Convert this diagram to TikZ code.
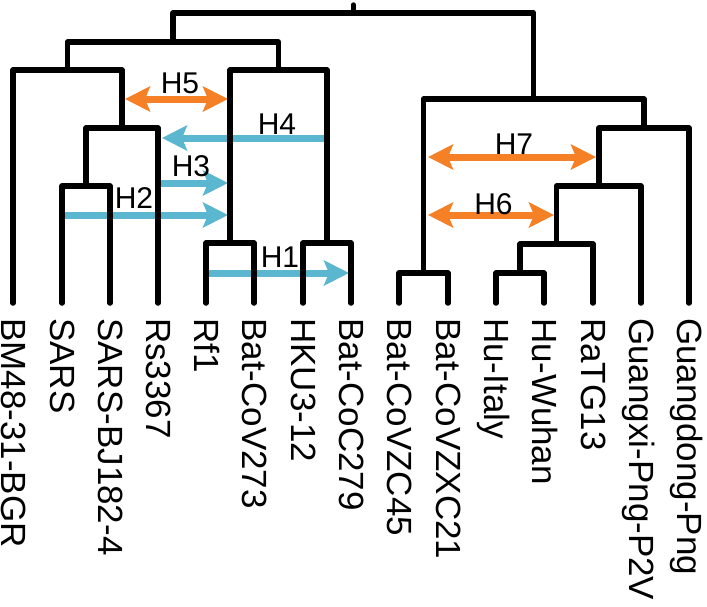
\documentclass[tikz,border=0pt]{standalone}
\usepackage{fontspec}
\setmainfont{Liberation Sans}
\usetikzlibrary{arrows.meta}
\definecolor{hblue}{RGB}{91,183,208}
\definecolor{horange}{RGB}{245,128,37}
\begin{document}
\begin{tikzpicture}[x=1pt,y=-1pt,
  branch/.style={line width=5.5pt,line cap=round,line join=round,draw=black},
  bluearrow/.style={color=hblue,line width=7pt,-{Stealth[length=25pt,width=25pt,inset=5pt]}},
  orangearrow/.style={color=horange,line width=7pt,{Stealth[length=25pt,width=25pt,inset=5pt]}-{Stealth[length=25pt,width=25pt,inset=5pt]}},
  leaflabel/.style={rotate=-90,anchor=base west,inner sep=0pt,font=\fontsize{35}{40}\selectfont},
  hlabel/.style={inner sep=0pt,font=\fontsize{30}{34}\selectfont}
]
\useasboundingbox (0,0) rectangle (707,606);

% leaves
\coordinate (l1) at (13,303);
\coordinate (l2) at (62,303);
\coordinate (l3) at (110,303);
\coordinate (l4) at (158,303);
\coordinate (l5) at (206,303);
\coordinate (l6) at (254,303);
\coordinate (l7) at (303,303);
\coordinate (l8) at (351,303);
\coordinate (l9) at (399,303);
\coordinate (l10) at (448,303);
\coordinate (l11) at (496,303);
\coordinate (l12) at (544,303);
\coordinate (l13) at (593,303);
\coordinate (l14) at (641,303);
\coordinate (l15) at (689,303);

% internal nodes
\coordinate (n1) at (86,186);
\coordinate (n2) at (122,128);
\coordinate (n3) at (67.5,70);
\coordinate (n4) at (230,243);
\coordinate (n5) at (327,243);
\coordinate (n6) at (278.5,70);
\coordinate (n7) at (173,42);
\coordinate (n8) at (423.5,273);
\coordinate (n9) at (520,273);
\coordinate (n10) at (556.5,244);
\coordinate (n11) at (598.75,186);
\coordinate (n12) at (643.9,128);
\coordinate (n13) at (533.7,99);
\coordinate (root) at (353.35,13);
\coordinate (roottop) at (353.35,5);

% arrow end points
\coordinate (a1s) at (206,273); \coordinate (a1e) at (349,273);
\coordinate (a2s) at (62,215);  \coordinate (a2e) at (228,215);
\coordinate (a3s) at (160,183); \coordinate (a3e) at (228,183);
\coordinate (a4s) at (327,138); \coordinate (a4e) at (162,138);
\coordinate (a5s) at (125,99);  \coordinate (a5e) at (228,99);
\coordinate (a6s) at (428,215); \coordinate (a6e) at (554,215);
\coordinate (a7s) at (428,157); \coordinate (a7e) at (596,157);

% arrows
\draw[bluearrow] (a1s) -- (a1e);
\draw[bluearrow] (a2s) -- (a2e);
\draw[bluearrow] (a3s) -- (a3e);
\draw[bluearrow] (a4s) -- (a4e);
\draw[orangearrow] (a5s) -- (a5e);
\draw[orangearrow] (a6s) -- (a6e);
\draw[orangearrow] (a7s) -- (a7e);

% tree
\draw[branch] (l2) |- (n1) -| (l3);
\draw[branch] (n1) |- (n2) -| (l4);
\draw[branch] (l1) |- (n3) -| (n2);
\draw[branch] (l5) |- (n4) -| (l6);
\draw[branch] (l7) |- (n5) -| (l8);
\draw[branch] (n4) |- (n6) -| (n5);
\draw[branch] (n3) |- (n7) -| (n6);
\draw[branch] (l9) |- (n8) -| (l10);
\draw[branch] (l11) |- (n9) -| (l12);
\draw[branch] (n9) |- (n10) -| (l13);
\draw[branch] (n10) |- (n11) -| (l14);
\draw[branch] (n11) |- (n12) -| (l15);
\draw[branch] (n8) |- (n13) -| (n12);
\draw[branch] (n7) |- (root) -| (n13);
\draw[branch] (root) -- (roottop);

% event labels
\node[hlabel] (h1) at (280,257) {H1};
\node[hlabel] (h2) at (134,198) {H2};
\node[hlabel] (h3) at (191,166) {H3};
\node[hlabel] (h4) at (277,124) {H4};
\node[hlabel] (h5) at (180,83) {H5};
\node[hlabel] (h6) at (493.5,204) {H6};
\node[hlabel] (h7) at (514,144) {H7};

% leaf labels
\node[leaflabel] (t1) at (1.5,318) {BM48-31-BGR};
\node[leaflabel] (t2) at (50.5,318) {SARS};
\node[leaflabel] (t3) at (98.5,318) {SARS-BJ182-4};
\node[leaflabel] (t4) at (146.5,318) {Rs3367};
\node[leaflabel] (t5) at (194.5,318) {Rf1};
\node[leaflabel] (t6) at (242.5,318) {Bat-CoV273};
\node[leaflabel] (t7) at (291.5,318) {HKU3-12};
\node[leaflabel] (t8) at (339.5,318) {Bat-CoC279};
\node[leaflabel] (t9) at (387.5,318) {Bat-CoVZC45};
\node[leaflabel] (t10) at (436.5,318) {Bat-CoVZXC21};
\node[leaflabel] (t11) at (484.5,318) {Hu-Italy};
\node[leaflabel] (t12) at (532.5,318) {Hu-Wuhan};
\node[leaflabel] (t13) at (581.5,318) {RaTG13};
\node[leaflabel] (t14) at (629.5,318) {Guangxi-Png-P2V};
\node[leaflabel] (t15) at (677.5,318) {Guangdong-Png};
\end{tikzpicture}
\end{document}
